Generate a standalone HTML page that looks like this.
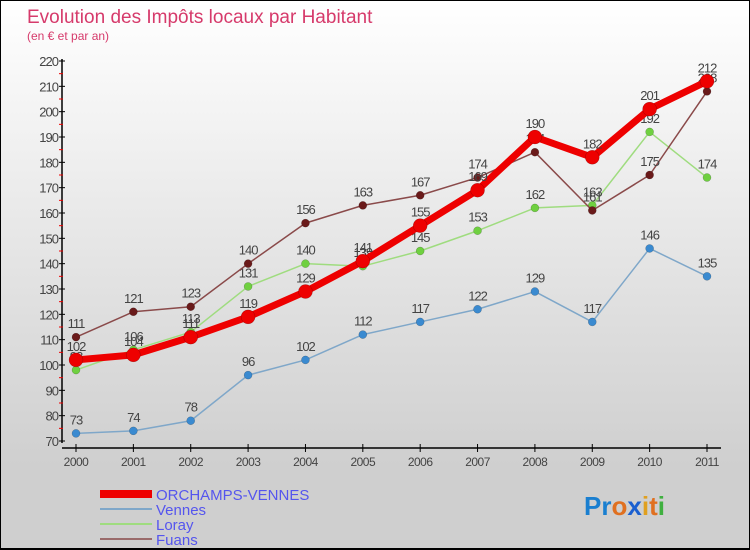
<!DOCTYPE html>
<html><head><meta charset="utf-8"><style>
body{margin:0}
#wrap{width:750px;height:550px;position:relative;overflow:hidden;font-family:"Liberation Sans",sans-serif;background:linear-gradient(#ffffff,#cfcfcf 85%,#cfcfcf);box-sizing:border-box;border:1px solid #000;border-bottom:2px solid #000}
</style></head><body>
<div id="wrap">
<svg id="svg" width="750" height="550" style="position:absolute;left:0;top:0">
<text x="26" y="22" font-size="19" fill="#d63a6b">Evolution des Impôts locaux par Habitant</text>
<text x="26" y="39" font-size="12" fill="#d63a6b">(en € et par an)</text>
<g id="axes"></g><g id="series"></g>
<g>
<rect x="99" y="489" width="52" height="8" fill="#e00"/>
<text x="155" y="499" font-size="15" fill="#5555ee">ORCHAMPS-VENNES</text>
<line x1="99" y1="508" x2="151" y2="508" stroke="#7fa7c9" stroke-width="2"/>
<text x="155" y="514" font-size="15" fill="#5555ee">Vennes</text>
<line x1="99" y1="523" x2="151" y2="523" stroke="#9fdc7f" stroke-width="2"/>
<text x="155" y="529" font-size="15" fill="#5555ee">Loray</text>
<line x1="99" y1="538" x2="151" y2="538" stroke="#9a6b6b" stroke-width="2"/>
<text x="155" y="544" font-size="15" fill="#5555ee">Fuans</text>
</g>
<text x="583" y="514" font-size="26" font-weight="bold"><tspan fill="#1a7fd0">Pr</tspan><tspan fill="#e07020">o</tspan><tspan fill="#1a5fd0">x</tspan><tspan fill="#e0a020">i</tspan><tspan fill="#e07020">t</tspan><tspan fill="#40b040">i</tspan></text>
</svg>
</div>
<script>
const years=["2000","2001","2002","2003","2004","2005","2006","2007","2008","2009","2010","2011"];
const yTicks=[70,80,90,100,110,120,130,140,150,160,170,180,190,200,210,220];
const orchamps=[102,104,111,119,129,141,155,169,190,182,201,212];
const vennes=[73,74,78,96,102,112,117,122,129,117,146,135];
const loray=[98,106,113,131,140,139,145,153,162,163,192,174];
const fuans=[111,121,123,140,156,163,167,174,184,161,175,208];
const NS="http://www.w3.org/2000/svg";
const X=i=>75+i*(706-75)/11;
const Y=v=>440-(v-70)*(380/150);
function mk(tag,attrs,parent){const e=document.createElementNS(NS,tag);for(const k in attrs)e.setAttribute(k,attrs[k]);parent.appendChild(e);return e;}
const ax=document.getElementById('axes');
const yl=mk('line',{x1:61,y1:58,x2:61,y2:442,stroke:'#000','stroke-width':1.5},ax);


const xl=mk('line',{x1:61,y1:447,x2:720,y2:447,stroke:'#000','stroke-width':1.5},ax);


yTicks.forEach((v,i)=>{
  mk('line',{x1:58,y1:Y(v),x2:64,y2:Y(v),stroke:'#000'},ax);
  if(i<yTicks.length-1)mk('line',{x1:58,y1:Y(v+5),x2:62,y2:Y(v+5),stroke:'#e00'},ax);
  const t=mk('text',{x:57,y:Y(v)+5,'font-size':13,fill:'#444','text-anchor':'end','letter-spacing':'-1'},ax);
  t.textContent=v;
  
  
});
years.forEach((y,i)=>{
  mk('line',{x1:X(i),y1:443,x2:X(i),y2:451,stroke:'#000'},ax);
  const t=mk('text',{x:X(i),y:465,'font-size':12,fill:'#444','text-anchor':'middle','letter-spacing':'-0.5'},ax);
  t.textContent=y;
  
  
});
const sg=document.getElementById('series');
function draw(name,data,color,width,r,dot){
  const g=mk('g',{},sg);
  
  
  const p=mk('polyline',{points:data.map((v,i)=>X(i)+','+Y(v)).join(' '),fill:'none',stroke:color,'stroke-width':width,'stroke-linejoin':'round'},g);
  
  
  data.forEach((v,i)=>{
    const c=mk('circle',{cx:X(i),cy:Y(v),r:r,fill:dot,stroke:'rgba(0,0,0,0.3)','stroke-width':0.5},g);
    
    
    const t=mk('text',{x:X(i),y:Y(v)-9,'font-size':13,fill:'#444','text-anchor':'middle','letter-spacing':'-1'},g);
    t.textContent=v;
    
    
  });
}
draw('vennes',vennes,'#7fa7c9',1.5,4,'#3a8ad0');
draw('loray',loray,'#9fdc7f',1.5,4,'#6fd040');
draw('fuans',fuans,'#8a4a4a',1.5,4,'#6a1a1a');
draw('orchamps',orchamps,'#ee0000',7,7,'#ee0000');
</script>
</body></html>
